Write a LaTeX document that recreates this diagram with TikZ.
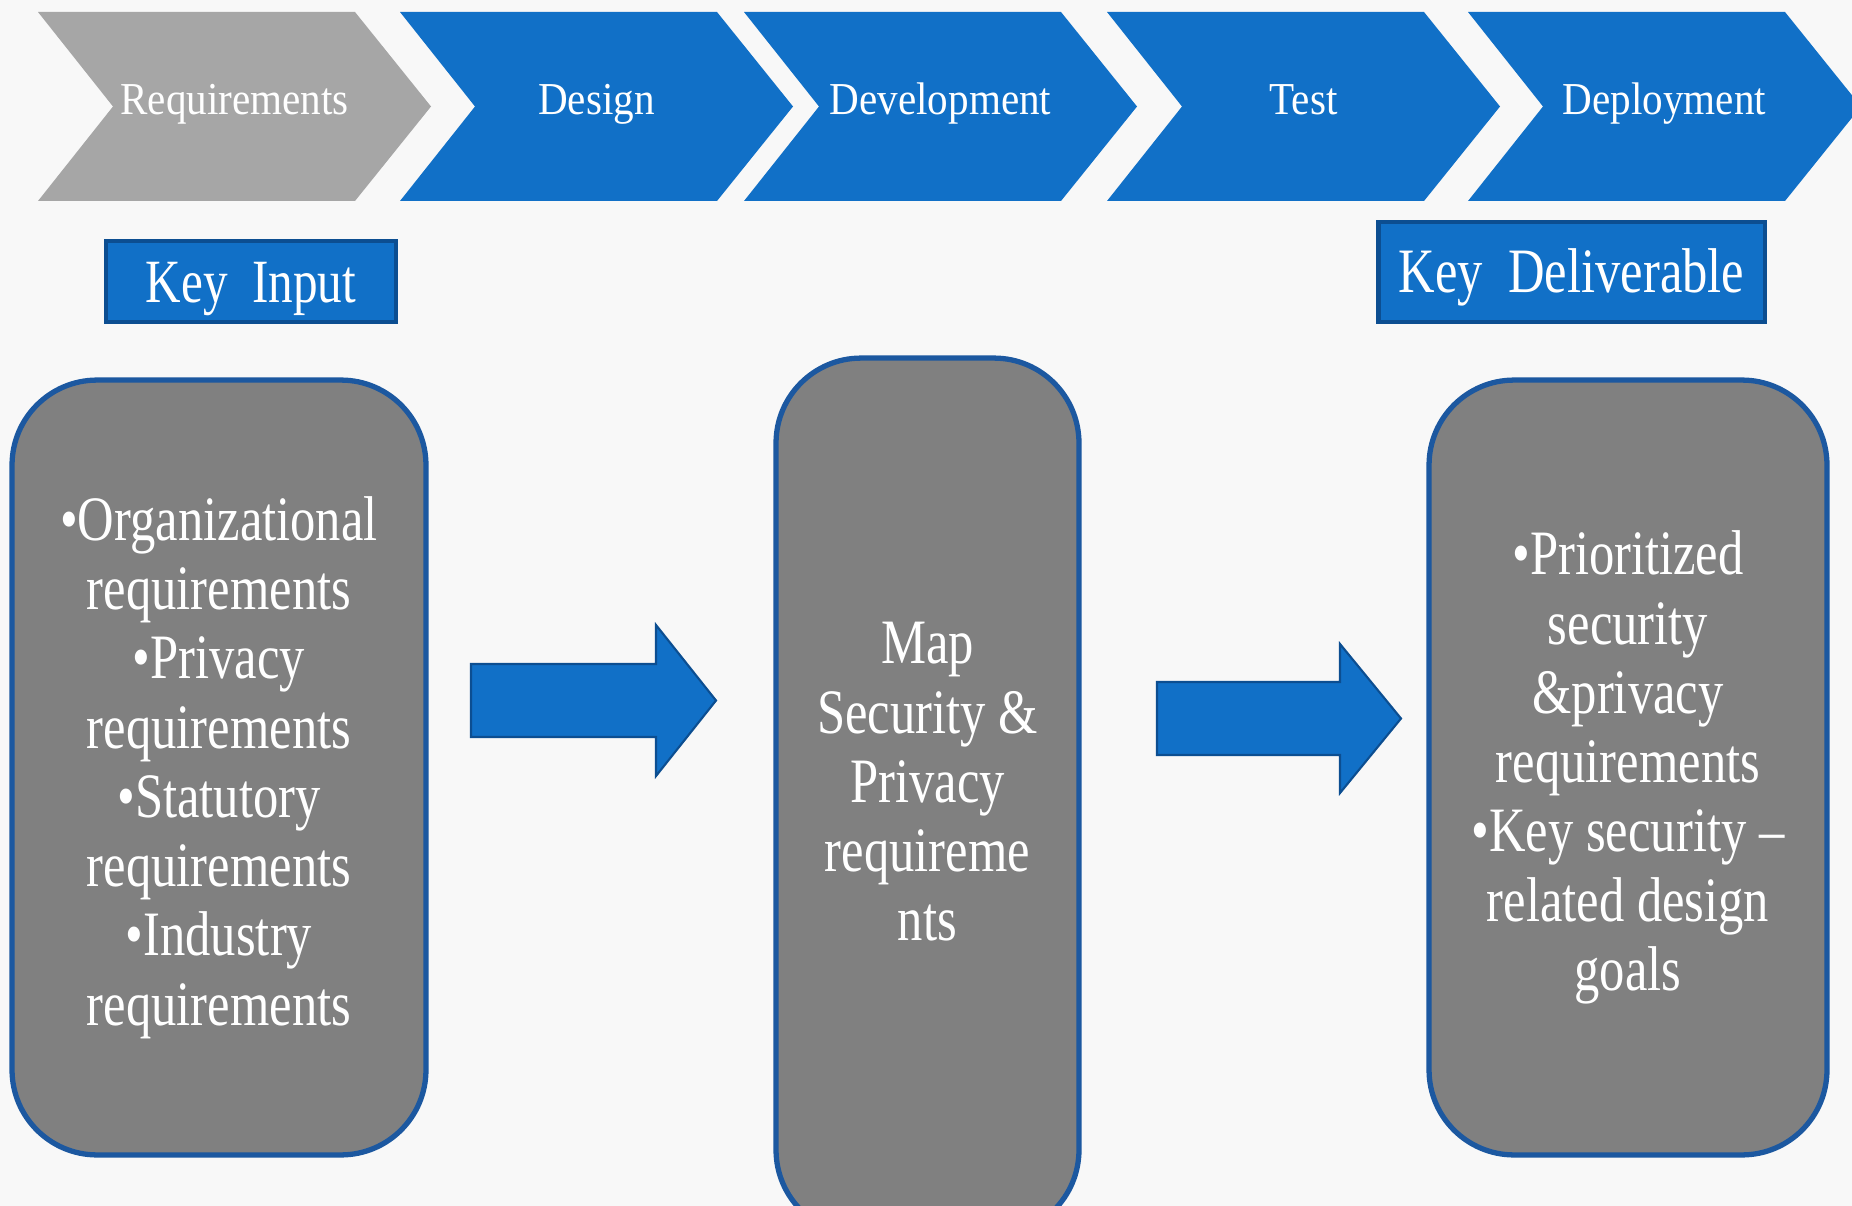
\documentclass[tikz,border=0pt]{standalone}
\usepackage{fontspec}
\setmainfont{Liberation Serif}[FakeStretch=0.8]
\newfontfamily\phasefont{Liberation Serif}[FakeStretch=0.9]
\usetikzlibrary{positioning,calc}
\definecolor{phaseblue}{RGB}{17,112,199}
\definecolor{phasegray}{RGB}{166,166,166}
\definecolor{keyedge}{RGB}{12,78,145}
\definecolor{boxgray}{RGB}{128,128,128}
\definecolor{boxedge}{RGB}{28,88,160}
\definecolor{pagebg}{RGB}{248,248,248}
\tikzset{
  phaselab/.style={text=white, anchor=base, inner sep=0pt,
                   font=\phasefont\fontsize{26}{30}\selectfont},
  keybox/.style={fill=phaseblue, draw=keyedge, line width=2.8pt, text=white,
                 inner sep=0pt, font=\fontsize{35}{40}\selectfont},
  boxtext/.style={text=white, align=center, inner sep=0pt,
                  font=\fontsize{36}{39.4}\selectfont},
  infobox/.style={boxtext, fill=boxgray, draw=boxedge, line width=3pt,
                  rounded corners=1.7cm},
  flowarrow/.style={fill=phaseblue, draw=keyedge, line width=1.2pt},
}

\begin{document}
\begin{tikzpicture}[x=0.02cm, y=-0.02cm]
  \useasboundingbox (0,0) rectangle (1852,1206);
  \clip (0,0) rectangle (1852,1206);
  \fill[pagebg] (0,0) rectangle (1852,1206);

  % phase chevrons
  \foreach \l/\lab/\col/\nm in {38/Requirements/phasegray/req, 400/Design/phaseblue/des,
      744/Development/phaseblue/dev, 1107/Test/phaseblue/tst, 1468/Deployment/phaseblue/dep} {
    \fill[\col] (\l,12) -- ++(317,0) -- ++(76,94.5) -- ++(-76,94.5) -- ++(-317,0)
      -- ++(75,-94.5) -- cycle;
    \node[phaselab] (\nm) at (\l+196.5,115) {\lab};
  }

  % key labels
  \node[keybox, minimum width=5.8cm, minimum height=1.62cm] (keyin) at (251,281.5) {};
  \node[text=white, anchor=base, inner sep=0pt, font=\fontsize{35}{40}\selectfont]
    (keyintxt) at (251,302) {Key~~Input};
  \node[keybox, minimum width=7.74cm, minimum height=2cm] (keyout) at (1571.5,272) {};
  \node[text=white, anchor=base, inner sep=0pt, font=\fontsize{36}{40}\selectfont]
    (keyouttxt) at (1571.5,293) {Key~~Deliverable};

  % boxes
  \node[infobox, minimum width=8.28cm, minimum height=15.5cm] (inbox) at (219,767.5)
    {•Organizational\\requirements\\•Privacy\\requirements\\•Statutory\\requirements\\•Industry\\requirements};
  \node[infobox, minimum width=6.06cm, minimum height=17.54cm] (mapbox) at (927.5,796.5) {};
  \node[boxtext] (maptxt) at (927.5,782)
    {Map\\Security \&\\Privacy\\requireme\\nts};
  \node[infobox, minimum width=7.96cm, minimum height=15.5cm] (outbox) at (1628,767.5)
    {•Prioritized\\security\\\&privacy\\requirements\\•Key security –\\related design\\goals};

  % block arrows
  \draw[flowarrow] (471,664) -- (656,664) -- (656,625) -- (716,700.5) -- (656,776)
    -- (656,737) -- (471,737) -- cycle;
  \draw[flowarrow] (1157,682) -- (1340,682) -- (1340,644) -- (1401,718.5) -- (1340,793)
    -- (1340,755) -- (1157,755) -- cycle;
\end{tikzpicture}
\end{document}
